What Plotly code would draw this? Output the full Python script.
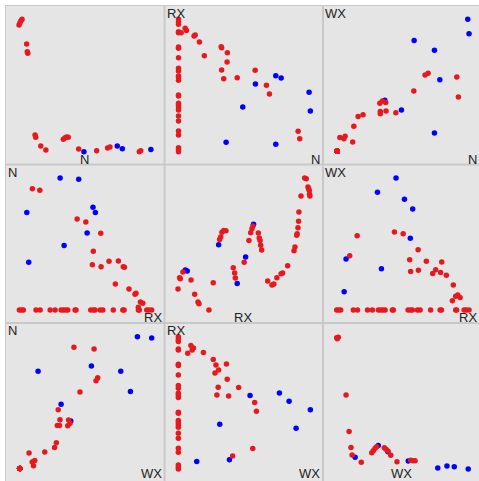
import plotly.graph_objects as go

VARS = ["N", "RX", "WX"]

# ---- observations, group "red" ----
red_n = [85.0, 84.0, 65.9, 64.0, 56.9, 45.6, 39.4, 39.2, 37.1, 35.8, 35.8, 35.5,
         24.9, 21.8, 19.1, 18.4, 13.6, 12.8, 10.3,
         8.6, 8.6, 8.6, 8.6, 8.6, 8.6, 8.6, 8.6, 8.6, 8.6, 8.6, 8.6, 8.6,
         8.6, 8.6, 8.6, 8.6, 8.6, 8.6, 8.6, 8.6, 8.6, 8.6, 8.6, 8.6, 8.6]
red_rx = [16.5, 21.2, 44.7, 50.2, 59.6, 54.9, 70.7, 64.8, 54.3, 59.8, 73.8, 74.5,
          68.8, 77.4, 81.8, 81.2, 84.6, 86.1, 83.3,
          8.3, 9.6, 10.8, 18.8, 21.4, 27.7, 30.8, 34.6, 36.0, 37.5, 38.8, 43.4, 44.0,
          53.3, 54.9, 56.0, 59.2, 60.9, 67.5, 73.5, 74.3, 83.3, 83.9, 88.6, 90.0, 91.7]
red_wx = [42.7, 55.4, 57.7, 56.6, 46.5, 32.8, 33.9, 39.3, 40.2, 33.6, 32.2, 38.8,
          31.6, 30.5, 24.3, 14.4, 18.0, 16.4, 17.2,
          8.5, 8.5, 8.5, 8.5, 8.5, 8.5, 8.5, 8.5, 8.5, 8.5, 8.5, 8.5, 8.5,
          8.5, 8.5, 8.5, 8.5, 8.5, 8.5, 8.5, 8.5, 8.5, 8.5, 8.5, 8.5, 8.5]

# ---- observations, group "blue" ----
blue_n = [91.7, 90.9, 69.9, 73.3, 69.9, 57.1, 49.1, 38.6]
blue_rx = [34.0, 45.7, 13.0, 54.7, 56.2, 51.0, 36.5, 14.2]
blue_wx = [82.7, 91.7, 20.1, 53.7, 72.2, 78.3, 34.6, 40.7]

# ---- diagonal panels: value vs. per-group level ----
diag_n_red_x = [8.1, 8.7, 9.3, 10.0, 12.9, 13.3, 13.6, 18.2, 18.6, 21.8, 25.0,
                36.0, 37.1, 38.1, 39.1, 45.7, 57.0, 63.9, 65.4, 83.9, 84.8]
diag_n_red_y = [88.1, 89.6, 90.9, 91.7, 76.2, 71.3, 70.3, 18.8, 17.4, 11.9, 9.4,
                16.1, 17.1, 17.6, 17.4, 10.0, 8.9, 10.6, 11.3, 8.3, 8.9]
diag_n_blue_x = [49.0, 70.0, 73.2, 91.2]
diag_n_blue_y = [8.3, 11.9, 10.2, 9.6]

diag_rx_red_x = [8.3, 9.3, 9.7, 11.4, 16.5, 18.8, 20.9, 21.5, 27.8, 30.5, 34.5, 35.2,
                 36.0, 37.1, 38.5, 43.1, 44.0, 44.4, 50.0, 53.0, 54.1, 54.9, 55.5,
                 58.9, 59.5, 60.0, 60.4, 61.0, 64.8, 67.5, 68.7, 70.6, 73.3, 74.2,
                 77.4, 81.4, 82.0, 83.1, 83.4, 83.9, 84.3, 84.5, 85.8, 88.1, 89.1,
                 90.2, 90.6, 91.0, 91.2, 91.4]
diag_rx_red_y = [21.7, 28.9, 28.2, 32.4, 27.4, 18.4, 13.5, 12.5, 8.5, 25.7, 53.0, 54.5,
                 57.6, 58.7, 58.5, 35.2, 31.8, 28.7, 38.6, 52.4, 57.2, 59.7, 61.4,
                 57.0, 53.9, 52.4, 49.3, 46.3, 26.8, 24.3, 24.9, 28.9, 31.4, 31.8,
                 36.4, 45.9, 48.2, 55.6, 56.6, 60.4, 64.4, 70.3, 80.3, 91.7, 91.2,
                 86.0, 84.9, 83.9, 81.4, 80.3]
diag_rx_blue_x = [12.9, 14.1, 33.9, 45.6, 50.9, 55.9]
diag_rx_blue_y = [33.7, 33.1, 49.6, 25.3, 41.9, 62.5]

diag_wx_red_x = [8.3, 9.3, 8.7, 14.2, 16.1, 17.3, 18.0, 23.8, 30.4, 31.4, 32.5, 33.5,
                 38.3, 39.4, 40.5, 42.4, 46.3, 55.0, 56.2, 57.7]
diag_wx_red_y = [91.0, 91.3, 90.4, 54.9, 31.9, 21.8, 17.1, 12.5, 18.6, 19.8, 21.4, 22.4,
                 21.7, 20.7, 19.7, 16.9, 12.9, 13.8, 13.5, 13.5]
diag_wx_blue_x = [19.9, 34.5, 40.6, 53.4, 72.0, 77.8, 82.4, 91.2]
diag_wx_blue_y = [15.7, 23.2, 19.2, 13.4, 9.0, 10.2, 9.8, 8.3]

RED = "#e8191e"
BLUE = "#0000ff"

data = {
    "red": {"N": red_n, "RX": red_rx, "WX": red_wx},
    "blue": {"N": blue_n, "RX": blue_rx, "WX": blue_wx},
}
diag = {
    "N": ((diag_n_red_x, diag_n_red_y), (diag_n_blue_x, diag_n_blue_y)),
    "RX": ((diag_rx_red_x, diag_rx_red_y), (diag_rx_blue_x, diag_rx_blue_y)),
    "WX": ((diag_wx_red_x, diag_wx_red_y), (diag_wx_blue_x, diag_wx_blue_y)),
}

# ---- page geometry (pixels) ----
W, H = 479, 481
ML, MT = 5, 5
PW, PH = W - ML, H - MT
CELL = PH / 3.0
X_LO, Y_LO = -0.75, 0.75       # axis range start for x and y
SPAN = 100.0                   # units per full cell

def px_to_paper_x(px):
    return (px - ML) / PW

def px_to_paper_y(py):
    return (H - py) / PH

fig = go.Figure()
layout_axes = {}
annotations = []
label_font = dict(family="Liberation Sans, Arial, sans-serif", size=13, color="#222222")

for r in range(3):
    for c in range(3):
        k = r * 3 + c + 1
        sfx = "" if k == 1 else str(k)
        xref, yref = "x" + sfx, "y" + sfx

        left = ML + c * CELL
        right = min(W, left + CELL)
        top = MT + r * CELL
        bottom = top + CELL
        x_span = SPAN * (right - left) / CELL
        # labels on the last row must stay inside the page
        bottom_shift = -1 if r == 2 else -4

        layout_axes["xaxis" + sfx] = dict(
            domain=[px_to_paper_x(left), px_to_paper_x(right)],
            range=[X_LO, X_LO + x_span], anchor=yref,
            showgrid=False, zeroline=False, showticklabels=False, ticks="",
            showline=False, fixedrange=True,
        )
        layout_axes["yaxis" + sfx] = dict(
            domain=[px_to_paper_y(bottom), px_to_paper_y(top)],
            range=[Y_LO, Y_LO + SPAN], anchor=xref,
            showgrid=False, zeroline=False, showticklabels=False, ticks="",
            showline=False, fixedrange=True,
        )

        if r == c:
            (rx_, ry_), (bx_, by_) = diag[VARS[r]]
            series = [(bx_, by_, BLUE), (rx_, ry_, RED)]
            annotations.append(dict(
                text=VARS[r], xref="paper", yref="paper",
                x=px_to_paper_x((left + left + CELL) / 2), y=px_to_paper_y(bottom),
                xanchor="center", yanchor="bottom", yshift=bottom_shift,
                showarrow=False, font=label_font, borderpad=0,
            ))
        else:
            xv, yv = VARS[r], VARS[c]
            series = [
                (data["blue"][xv], data["blue"][yv], BLUE),
                (data["red"][xv], data["red"][yv], RED),
            ]
            annotations.append(dict(
                text=yv, xref="paper", yref="paper",
                x=px_to_paper_x(left + 2), y=px_to_paper_y(top),
                xanchor="left", yanchor="top", yshift=0,
                showarrow=False, font=label_font, borderpad=0,
            ))
            annotations.append(dict(
                text=xv, xref="paper", yref="paper",
                x=px_to_paper_x(min(left + CELL - 1, W - 1)), y=px_to_paper_y(bottom),
                xanchor="right", yanchor="bottom", yshift=bottom_shift,
                showarrow=False, font=label_font, borderpad=0,
            ))

        for sx, sy, col in series:
            fig.add_trace(go.Scatter(
                x=sx, y=sy, mode="markers", xaxis=xref, yaxis=yref,
                marker=dict(color=col, size=5.5, line=dict(width=0)),
                showlegend=False, hoverinfo="skip",
            ))

# cell separators and outer frame
GRID = "#c8c8c8"
shapes = []
for px in (164.5, 323.0):
    shapes.append(dict(type="line", xref="paper", yref="paper",
                       x0=px_to_paper_x(px), x1=px_to_paper_x(px), y0=0, y1=1,
                       line=dict(color=GRID, width=2), layer="above"))
for py in (164.5, 323.0):
    shapes.append(dict(type="line", xref="paper", yref="paper",
                       x0=0, x1=1, y0=px_to_paper_y(py), y1=px_to_paper_y(py),
                       line=dict(color=GRID, width=2), layer="above"))
shapes.append(dict(type="line", xref="paper", yref="paper",
                   x0=px_to_paper_x(5.5), x1=px_to_paper_x(5.5), y0=0, y1=1,
                   line=dict(color=GRID, width=1), layer="above"))
shapes.append(dict(type="line", xref="paper", yref="paper",
                   x0=0, x1=1, y0=px_to_paper_y(5.5), y1=px_to_paper_y(5.5),
                   line=dict(color=GRID, width=1), layer="above"))

fig.update_layout(
    width=W, height=H,
    margin=dict(l=ML, r=0, t=MT, b=0, pad=0),
    paper_bgcolor="white", plot_bgcolor="#e5e5e5",
    showlegend=False,
    annotations=annotations, shapes=shapes,
    **layout_axes,
)

fig.write_html("out.html")
